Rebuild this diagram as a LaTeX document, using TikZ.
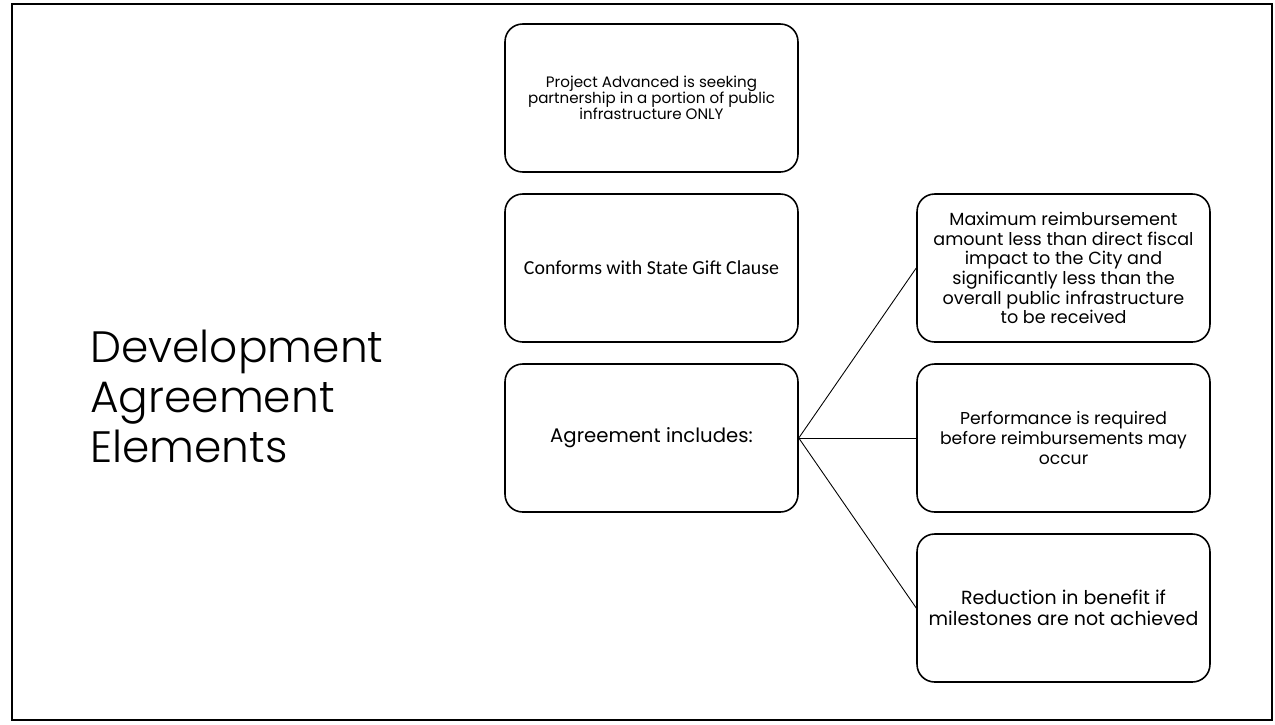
\documentclass[tikz,border=0pt]{standalone}
\usepackage{fontspec}
\setmainfont{Poppins}
\newfontfamily\calibrifont{Carlito}
\newfontfamily\titlefont{Poppins Light}
\usetikzlibrary{positioning}

\begin{document}
\begin{tikzpicture}[
    x=0.02cm, y=-0.02cm,
    every node/.style={font=\fontsize{10}{13}\selectfont},
    elembox/.style={draw, line width=0.9pt, rounded corners=10pt,
        minimum width=5.86cm, minimum height=2.96cm, align=center, inner sep=2pt},
    titlelabel/.style={font=\titlefont\fontsize{25}{28.5}\selectfont, align=left, anchor=west},
    linkline/.style={line width=0.5pt}
]

\def\colL{651.5}   % linke Spalte
\def\colR{1063.5}  % rechte Spalte

% Rahmen
\useasboundingbox (0,0) rectangle (1275,724);
\draw[line width=1.2pt] (12,4) rectangle (1272,720);

% Titel
\node[titlelabel] (title) at (84,396) {Development\\Agreement\\Elements};

% linke Spalte
\node[elembox, font=\fontsize{8.6}{9.1}\selectfont] (project) at (\colL,98)
    {Project Advanced is seeking\\partnership in a portion of public\\infrastructure ONLY};
\node[elembox, font=\calibrifont\fontsize{11.3}{13}\selectfont] (gift) at (\colL,268)
    {Conforms with State Gift Clause};
\node[elembox, font=\fontsize{11.2}{13}\selectfont] (includes) at (\colL,438) {Agreement includes:};

% rechte Spalte
\node[elembox, font=\fontsize{10}{11.2}\selectfont] (maxreimb) at (\colR,268)
    {Maximum reimbursement\\amount less than direct fiscal\\impact to the City and\\significantly less than the\\overall public infrastructure\\to be received};
\node[elembox, font=\fontsize{9.8}{11.4}\selectfont] (perform) at (\colR,438)
    {Performance is required\\before reimbursements may\\occur};
\node[elembox, font=\fontsize{10.8}{11.8}\selectfont] (reduce) at (\colR,608)
    {Reduction in benefit if\\milestones are not achieved};

% Verbindungen
\draw[linkline] (includes.east) -- (maxreimb.west);
\draw[linkline] (includes.east) -- (perform.west);
\draw[linkline] (includes.east) -- (reduce.west);

\end{tikzpicture}
\end{document}
